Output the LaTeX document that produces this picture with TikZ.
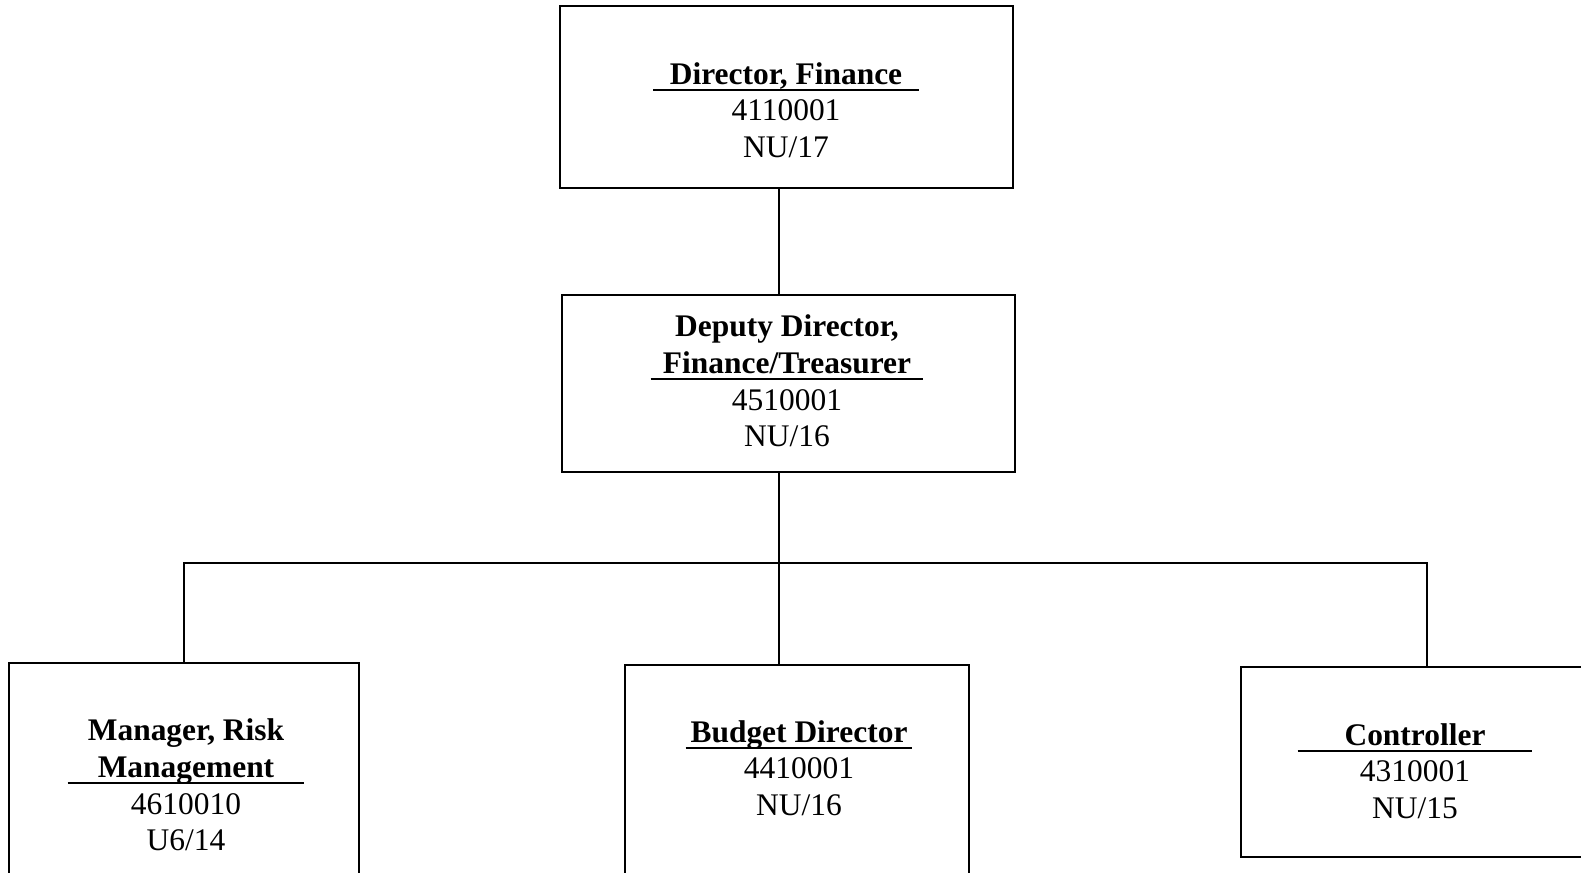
\documentclass[tikz,border=0pt]{standalone}
\usepackage{fontspec}
\setmainfont{Liberation Serif}
\usetikzlibrary{positioning, calc}
\newcommand{\ttl}[2]{\makebox[#1]{\textbf{#2}}\llap{\rule[-0.22em]{#1}{1.1pt}}}

\begin{document}
\begin{tikzpicture}[x=0.02cm, y=-0.02cm,
    box/.style={draw, rectangle, line width=1.1pt, inner sep=0pt},
    txt/.style={align=center, inner sep=0pt, font=\fontsize{17.9}{20.8}\selectfont},
    conn/.style={line width=0.7pt}]
  \path[use as bounding box, clip] (0,0) rectangle (1581,872);
  % boxes
  \node[box, minimum width=9.06cm, minimum height=3.64cm] (fin) at (786.5,97) {};
  \node[box, minimum width=9.06cm, minimum height=3.54cm] (dep) at (788.5,383.5) {};
  \node[box, minimum width=7.00cm, minimum height=4.84cm] (risk) at (184,784) {};
  \node[box, minimum width=6.88cm, minimum height=4.80cm] (mid) at (797,785) {};
  \node[box, minimum width=7.44cm, minimum height=3.80cm] (ctl) at (1427,762) {};
  % texts
  \node[txt] (fint) at (786,110) {\ttl{5.32cm}{Director, Finance}\\4110001\\NU/17};
  \node[txt] (dept) at (787,381) {\textbf{Deputy Director,}\\\ttl{5.46cm}{Finance/Treasurer}\\4510001\\NU/16};
  \node[txt] (riskt) at (186,785) {\textbf{Manager, Risk}\\\ttl{4.74cm}{Management}\\4610010\\U6/14};
  \node[txt] (midt) at (799,768) {\ttl{4.54cm}{Budget Director}\\4410001\\NU/16};
  \node[txt] (ctlt) at (1415,771) {\ttl{4.70cm}{Controller}\\4310001\\NU/15};
  % lines
  \coordinate (bus) at (779,563);
  \draw[conn] (fin.south -| bus) -- (dep.north -| bus);
  \draw[conn] (dep.south -| bus) -- (mid.north -| bus);
  \draw[conn] (risk.north) |- (bus) -| (ctl.north);
\end{tikzpicture}
\end{document}
